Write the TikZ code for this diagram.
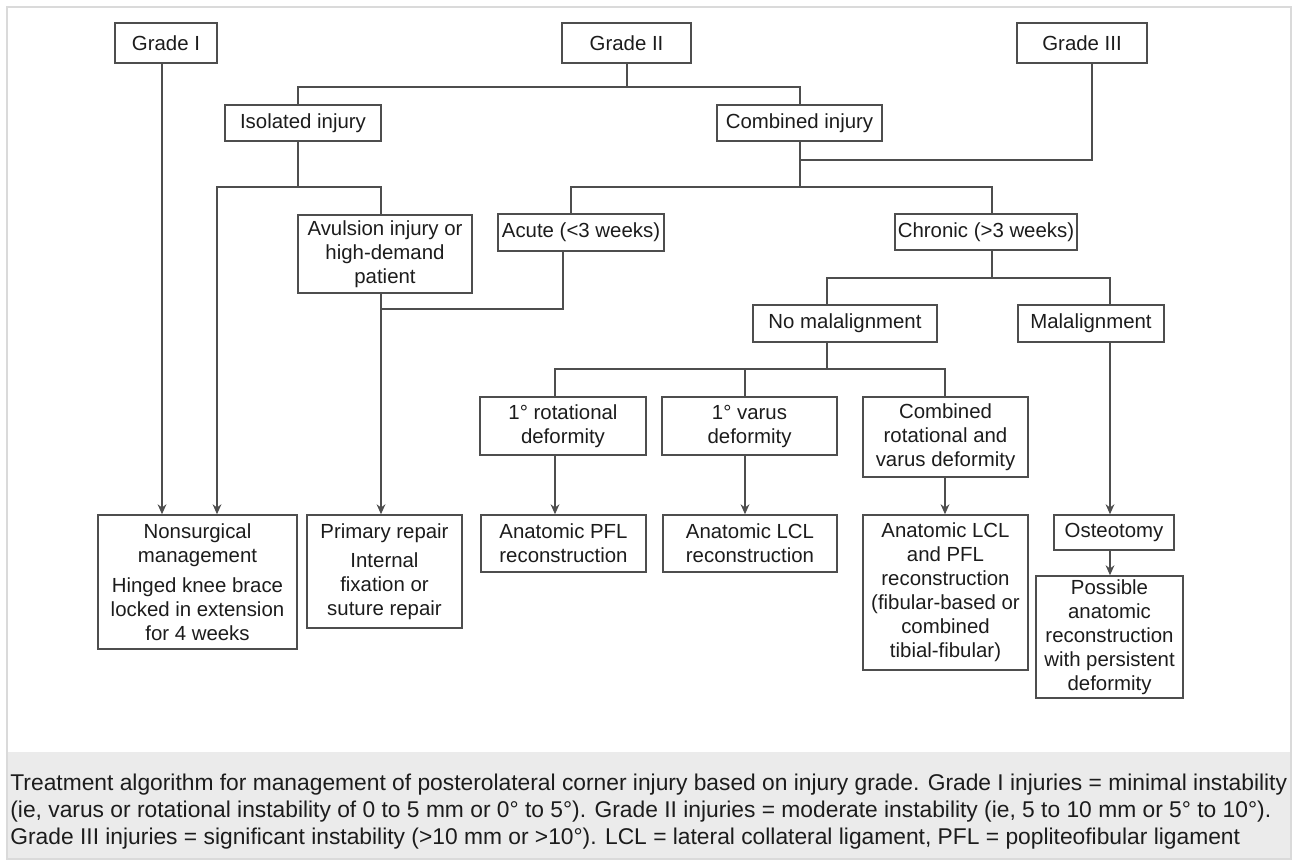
\documentclass[tikz,border=0pt]{standalone}
\usepackage{fontspec}
\setmainfont{Liberation Sans}
\usepackage{tikz}
\usetikzlibrary{arrows.meta,positioning,calc}
\definecolor{boxline}{RGB}{78,78,78}
\definecolor{inkgray}{RGB}{28,28,28}
\definecolor{capgray}{RGB}{235,235,235}
\definecolor{framegray}{RGB}{218,218,218}

\begin{document}
\begin{tikzpicture}[x=0.5pt,y=-0.5pt,
  box/.style={draw=boxline,line width=0.75pt,align=center,inner sep=0pt,
              text=inkgray,font=\fontsize{10.2}{12}\selectfont},
  ln/.style={draw=boxline,line width=0.75pt},
  arr/.style={ln,-{Stealth[length=5pt,width=4.4pt]}},
  captext/.style={align=left,inner sep=0pt,text=inkgray,
              font=\fontsize{11.4}{13.3}\selectfont}
]
\useasboundingbox (0,0) rectangle (1293,859);
% frame and caption strip
\fill[capgray] (7,752) rectangle (1291,859);
\draw[framegray,line width=0.8pt] (7,7) rectangle (1291,859);

% Row 1: grades
\node[box,minimum width=51pt,minimum height=20pt]   (g1)   at (166,43)  {Grade I};
\node[box,minimum width=64.5pt,minimum height=20pt] (g2)   at (626.5,43){Grade II};
\node[box,minimum width=65pt,minimum height=20pt]   (g3)   at (1082,43) {Grade III};
% Row 2: type of injury
\node[box,minimum width=78pt,minimum height=18pt]   (iso)  at (303,123) {Isolated injury};
\node[box,minimum width=82.5pt,minimum height=18pt] (comb) at (799.5,123){Combined injury};
% Row 3
\node[box,minimum width=87pt,minimum height=39pt]   (avul) at (385,254) {Avulsion injury or\\high-demand\\patient};
\node[box,minimum width=83pt,minimum height=18.5pt] (acute) at (581,232.5){Acute (<3 weeks)};
\node[box,minimum width=91pt,minimum height=18pt]   (chron) at (986,232){Chronic (>3 weeks)};
% Row 4: alignment
\node[box,minimum width=92pt,minimum height=18.5pt] (nomal) at (845,323.5){No malalignment};
\node[box,minimum width=73pt,minimum height=18.5pt] (mal)  at (1091,323.5){Malalignment};
% Row 5: deformity
\node[box,minimum width=83pt,minimum height=29pt]   (rot)  at (563,426) {1° rotational\\deformity};
\node[box,minimum width=87.5pt,minimum height=29pt] (var)  at (749.5,426){1° varus\\deformity};
\node[box,minimum width=82.5pt,minimum height=40pt] (crv)  at (945.5,437){Combined\\rotational and\\varus deformity};
% Row 6: treatment
\node[box,minimum width=99.5pt,minimum height=67pt] (nons) at (197.5,582){Nonsurgical\\management\\[3pt]Hinged knee brace\\locked in extension\\for 4 weeks};
\node[box,minimum width=77.5pt,minimum height=56.5pt] (prim) at (384.5,571.5){Primary repair\\[2.5pt]Internal\\fixation or\\suture repair};
\node[box,minimum width=82.5pt,minimum height=28.5pt] (pfl)  at (563.5,543.5){Anatomic PFL\\reconstruction};
\node[box,minimum width=87pt,minimum height=28.5pt]   (lcl)  at (750,543.5){Anatomic LCL\\reconstruction};
\node[box,minimum width=82.5pt,minimum height=77.5pt] (lclpfl) at (945.5,592.5){Anatomic LCL\\and PFL\\reconstruction\\(fibular-based or\\combined\\tibial-fibular)};
\node[box,minimum width=60pt,minimum height=17.5pt]   (osteo) at (1114,532.5){Osteotomy};
\node[box,minimum width=73.5pt,minimum height=61pt]   (poss) at (1109.5,637){Possible\\anatomic\\reconstruction\\with persistent\\deformity};

% grade I goes straight to brace
\draw[arr] (g1.south -| 162,0) -- (nons.north -| 162,0);
% grade II split
\draw[ln] (g2.south -| 627,0) -- (627,87);
\draw[ln] (iso.north -| 298,0) |- (800,87) -- (comb.north -| 800,0);
% grade III joins the combined branch
\draw[ln] (g3.south -| 1092,0) |- (800,160);
\draw[ln] (comb.south -| 800,0) -- (800,187);
\draw[ln] (acute.north -| 571,0) |- (992,187) -- (chron.north -| 992,0);
% isolated branch
\draw[ln] (iso.south -| 298,0) -- (298,187);
\draw[arr] (avul.north -| 381,0) |- (217,187) -- (nons.north -| 217,0);
\draw[arr] (avul.south -| 381,0) -- (prim.north -| 381,0);
\draw[ln] (acute.south -| 563,0) |- (381,309);
% chronic branch
\draw[ln] (chron.south -| 992,0) -- (992,278);
\draw[ln] (nomal.north -| 827,0) |- (1110,278) -- (mal.north -| 1110,0);
\draw[arr] (mal.south -| 1110,0) -- (osteo.north -| 1110,0);
\draw[arr] (osteo.south -| 1110,0) -- (poss.north -| 1110,0);
% no malalignment split
\draw[ln] (nomal.south -| 827,0) -- (827,369);
\draw[ln] (rot.north -| 555,0) |- (945,369) -- (crv.north -| 945,0);
\draw[ln] (var.north -| 745,0) -- (745,369);
\draw[arr] (rot.south -| 555,0) -- (pfl.north -| 555,0);
\draw[arr] (var.south -| 745,0) -- (lcl.north -| 745,0);
\draw[arr] (crv.south -| 945,0) -- (lclpfl.north -| 945,0);

% caption
\node[captext,anchor=north west] (capt) at (10,774) {Treatment algorithm for management of posterolateral corner injury based on injury grade. Grade I injuries = minimal instability\\(ie, varus or rotational instability of 0 to 5 mm or 0° to 5°). Grade II injuries = moderate instability (ie, 5 to 10 mm or 5° to 10°).\\Grade III injuries = significant instability (>10 mm or >10°). LCL = lateral collateral ligament, PFL = popliteofibular ligament};
\end{tikzpicture}
\end{document}
